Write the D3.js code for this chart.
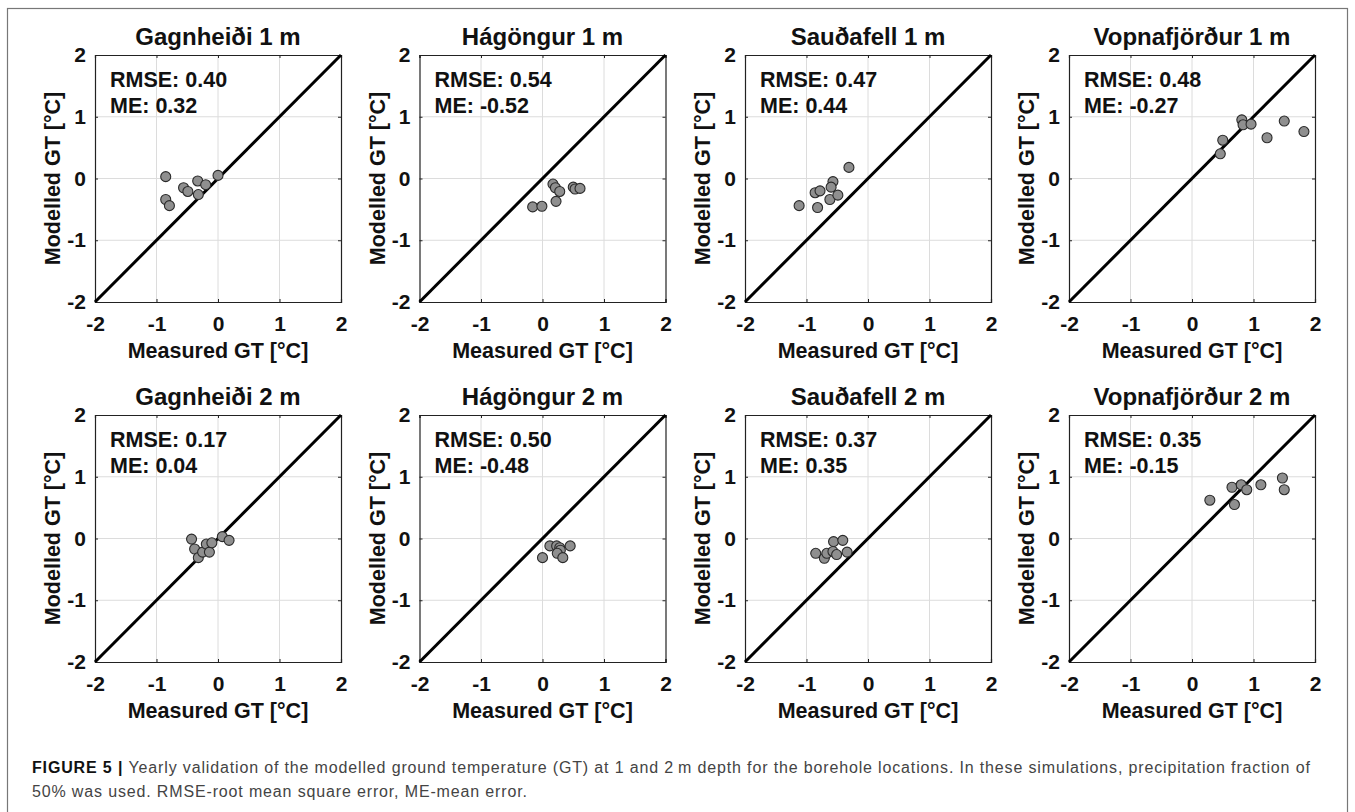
<!DOCTYPE html>
<html>
<head>
<meta charset="utf-8">
<script src="https://cdn.jsdelivr.net/npm/d3@7"></script>
<style>
  body { margin: 0; background: #fff; }
  text { font-family: "Liberation Sans", Arial, sans-serif; }
</style>
</head>
<body>
<div id="chart"></div>
<script>
// =========== Data
var titles = ["Gagnheiði 1 m", "Hágöngur 1 m", "Sauðafell 1 m", "Vopnafjörður 1 m",
              "Gagnheiði 2 m", "Hágöngur 2 m", "Sauðafell 2 m", "Vopnafjörður 2 m"];
var rmse = ["0.40", "0.54", "0.47", "0.48", "0.17", "0.50", "0.37", "0.35"];
var me   = ["0.32", "-0.52", "0.44", "-0.27", "0.04", "-0.48", "0.35", "-0.15"];

// measured (x) and modelled (y) ground temperature, one pair of arrays per panel
var gag1Measured = [-0.85, -0.85, -0.79, -0.56, -0.49, -0.33, -0.32, -0.20, 0.00];
var gag1Modelled = [0.03, -0.34, -0.44, -0.15, -0.21, -0.04, -0.26, -0.10, 0.05];
var hag1Measured = [-0.16, -0.01, 0.17, 0.21, 0.28, 0.22, 0.50, 0.53, 0.61];
var hag1Modelled = [-0.46, -0.45, -0.09, -0.15, -0.21, -0.37, -0.14, -0.17, -0.16];
var sau1Measured = [-1.12, -0.86, -0.78, -0.82, -0.57, -0.60, -0.62, -0.49, -0.31];
var sau1Modelled = [-0.44, -0.23, -0.20, -0.47, -0.05, -0.14, -0.34, -0.27, 0.18];
var vop1Measured = [0.46, 0.50, 0.81, 0.83, 0.96, 1.22, 1.50, 1.82];
var vop1Modelled = [0.40, 0.62, 0.95, 0.87, 0.88, 0.66, 0.93, 0.76];
var gag2Measured = [-0.43, -0.38, -0.32, -0.25, -0.19, -0.14, -0.10, 0.07, 0.18];
var gag2Modelled = [-0.01, -0.17, -0.31, -0.22, -0.09, -0.22, -0.07, 0.03, -0.03];
var hag2Measured = [0.00, 0.12, 0.23, 0.28, 0.29, 0.24, 0.33, 0.45];
var hag2Modelled = [-0.31, -0.12, -0.12, -0.15, -0.19, -0.24, -0.31, -0.12];
var sau2Measured = [-0.85, -0.71, -0.67, -0.56, -0.57, -0.51, -0.41, -0.34];
var sau2Modelled = [-0.24, -0.32, -0.24, -0.05, -0.21, -0.26, -0.03, -0.22];
var vop2Measured = [0.29, 0.65, 0.69, 0.80, 0.89, 1.12, 1.47, 1.50];
var vop2Modelled = [0.62, 0.83, 0.55, 0.87, 0.79, 0.87, 0.98, 0.79];

var measured = [gag1Measured, hag1Measured, sau1Measured, vop1Measured,
                gag2Measured, hag2Measured, sau2Measured, vop2Measured];
var modelled = [gag1Modelled, hag1Modelled, sau1Modelled, vop1Modelled,
                gag2Modelled, hag2Modelled, sau2Modelled, vop2Modelled];
var tickValues = [-2, -1, 0, 1, 2];

// =========== Layout
var svgWidth = 1355, svgHeight = 812;
var panelLeft = [95, 419.5, 745, 1069];
var panelTop = [55, 415];
var pw = 246, ph = 247;

var svg = d3.select("#chart").append("svg")
    .attr("width", svgWidth)
    .attr("height", svgHeight);

// outer frame
svg.append("rect")
    .attr("x", 7.5).attr("y", 8.5)
    .attr("width", 1340).attr("height", 820)
    .attr("fill", "none")
    .attr("stroke", "#777")
    .attr("stroke-width", 1.2);

titles.forEach(function(title, i) {
    var col = i % 4, row = Math.floor(i / 4);
    var g = svg.append("g")
        .attr("transform", `translate(${panelLeft[col]}, ${panelTop[row]})`);

    var x = d3.scaleLinear().domain([-2, 2]).range([0, pw]);
    var y = d3.scaleLinear().domain([-2, 2]).range([ph, 0]);

    // grid
    g.append("g").selectAll("line")
        .data(tickValues.slice(1, -1)).enter().append("line")
        .attr("x1", d => x(d)).attr("x2", d => x(d))
        .attr("y1", 0).attr("y2", ph)
        .attr("stroke", "#dcdcdc").attr("stroke-width", 1);
    g.append("g").selectAll("line")
        .data(tickValues.slice(1, -1)).enter().append("line")
        .attr("x1", 0).attr("x2", pw)
        .attr("y1", d => y(d)).attr("y2", d => y(d))
        .attr("stroke", "#dcdcdc").attr("stroke-width", 1);

    // box axes on top/right (ticks only)
    var topAxis = g.append("g")
        .call(d3.axisTop(x).tickValues(tickValues).tickSize(-3));
    var rightAxis = g.append("g")
        .attr("transform", `translate(${pw}, 0)`)
        .call(d3.axisRight(y).tickValues(tickValues).tickSize(-3));
    topAxis.selectAll(".tick text").remove();
    rightAxis.selectAll(".tick text").remove();

    // main axes (inward ticks, MATLAB style)
    var xAxis = g.append("g")
        .attr("transform", `translate(0, ${ph})`)
        .call(d3.axisBottom(x).tickValues(tickValues).tickSize(-3).tickPadding(14));
    var yAxis = g.append("g")
        .call(d3.axisLeft(y).tickValues(tickValues).tickSize(-3).tickPadding(9));

    g.selectAll(".domain").attr("stroke", "#222").attr("stroke-width", 1.2);
    g.selectAll(".tick line").attr("stroke", "#222");
    [xAxis, yAxis].forEach(function(ax) {
        ax.selectAll(".tick text")
            .text(d => String(d))
            .attr("font-size", "21px")
            .attr("font-weight", "bold")
            .attr("fill", "#111")
            .style("font-family", "'Liberation Sans', Arial, sans-serif");
    });

    // 1:1 line
    g.append("line")
        .attr("x1", x(-2)).attr("y1", y(-2))
        .attr("x2", x(2)).attr("y2", y(2))
        .attr("stroke", "#000").attr("stroke-width", 3);

    // points
    var pts = measured[i].map((m, k) => ({ m: m, s: modelled[i][k] }));
    g.selectAll("circle")
        .data(pts).enter().append("circle")
        .attr("cx", d => x(d.m))
        .attr("cy", d => y(d.s))
        .attr("r", 5)
        .attr("fill", "#8f8f8f")
        .attr("stroke", "#2a2a2a")
        .attr("stroke-width", 1.1);

    // stats text
    g.append("text")
        .attr("x", 15).attr("y", 32)
        .attr("font-size", "21.5px").attr("font-weight", "bold").attr("fill", "#111")
        .text("RMSE: " + rmse[i]);
    g.append("text")
        .attr("x", 15).attr("y", 58)
        .attr("font-size", "21.5px").attr("font-weight", "bold").attr("fill", "#111")
        .text("ME: " + me[i]);

    // title
    g.append("text")
        .attr("x", pw / 2).attr("y", -10)
        .attr("text-anchor", "middle")
        .attr("font-size", "24px").attr("font-weight", "bold").attr("fill", "#111")
        .text(title);

    // axis labels
    g.append("text")
        .attr("x", pw / 2).attr("y", ph + 56)
        .attr("text-anchor", "middle")
        .attr("font-size", "21.5px").attr("font-weight", "bold").attr("fill", "#111")
        .text("Measured GT [°C]");
    g.append("text")
        .attr("transform", "rotate(-90)")
        .attr("x", -ph / 2).attr("y", -35)
        .attr("text-anchor", "middle")
        .attr("font-size", "21.5px").attr("font-weight", "bold").attr("fill", "#111")
        .text("Modelled GT [°C]");
});

// =========== Caption
var cap1 = svg.append("text")
    .attr("x", 32).attr("y", 773)
    .attr("font-size", "16px").attr("letter-spacing", "0.85px").attr("fill", "#444");
cap1.append("tspan").attr("font-weight", "bold").attr("fill", "#111").text("FIGURE 5 | ");
cap1.append("tspan").text("Yearly validation of the modelled ground temperature (GT) at 1 and 2\u2009m depth for the borehole locations. In these simulations, precipitation fraction of");
svg.append("text")
    .attr("x", 32).attr("y", 797)
    .attr("font-size", "16px").attr("letter-spacing", "0.85px").attr("fill", "#444")
    .text("50% was used. RMSE-root mean square error, ME-mean error.");
</script>
</body>
</html>
